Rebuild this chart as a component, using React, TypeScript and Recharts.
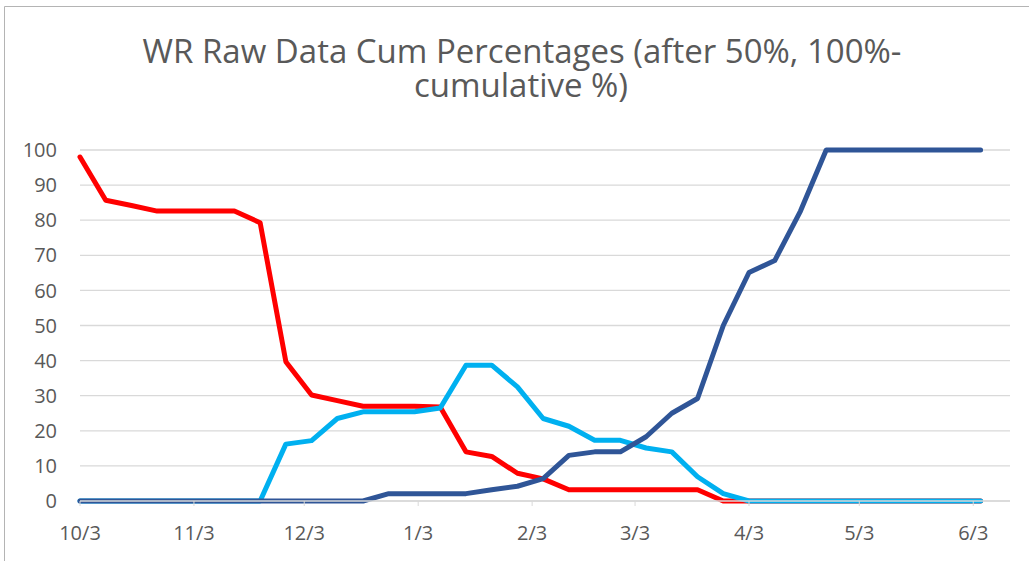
import React from "react"
import { LineChart, Line, XAxis, YAxis, CartesianGrid } from "recharts"

// weekly sample dates
const weekDates = [
  "2018-10-03", "2018-10-10", "2018-10-17", "2018-10-24", "2018-10-31", "2018-11-07",
  "2018-11-14", "2018-11-21", "2018-11-28", "2018-12-05", "2018-12-12", "2018-12-19",
  "2018-12-26", "2019-01-02", "2019-01-09", "2019-01-16", "2019-01-23", "2019-01-30",
  "2019-02-06", "2019-02-13", "2019-02-20", "2019-02-27", "2019-03-06", "2019-03-13",
  "2019-03-20", "2019-03-27", "2019-04-03", "2019-04-10", "2019-04-17", "2019-04-24",
  "2019-05-01", "2019-05-08", "2019-05-15", "2019-05-22", "2019-05-29", "2019-06-05",
]

const redSeries = [
  98, 85.7, 84.2, 82.6, 82.6, 82.6, 82.6, 79.3, 39.7, 30.2, 28.6, 27.0,
  27.0, 27.0, 26.8, 14.0, 12.7, 7.9, 6.3, 3.2, 3.2, 3.2, 3.2, 3.2,
  3.2, 0, 0, 0, 0, 0, 0, 0, 0, 0, 0, 0,
]

const lightBlueSeries = [
  0, 0, 0, 0, 0, 0, 0, 0, 16.2, 17.2, 23.5, 25.4,
  25.4, 25.4, 26.5, 38.7, 38.7, 32.5, 23.5, 21.3, 17.3, 17.3, 15.1, 14.0,
  6.9, 2.1, 0, 0, 0, 0, 0, 0, 0, 0, 0, 0,
]

const darkBlueSeries = [
  0, 0, 0, 0, 0, 0, 0, 0, 0, 0, 0, 0,
  2.1, 2.1, 2.1, 2.1, 3.2, 4.2, 6.4, 13.0, 14.0, 14.0, 18.3, 25.0,
  29.2, 50.0, 65.1, 68.5, 82.6, 100, 100, 100, 100, 100, 100, 100,
]

const tickDates = [
  "2018-10-03", "2018-11-03", "2018-12-03", "2019-01-03", "2019-02-03",
  "2019-03-03", "2019-04-03", "2019-05-03", "2019-06-03",
]
const yTicks = [0, 10, 20, 30, 40, 50, 60, 70, 80, 90, 100]

const DAY = 86400000
const toTime = (s: string) => Date.parse(s + "T00:00:00Z")

const data = weekDates.map((d, i) => ({
  t: toTime(d),
  red: redSeries[i],
  light: lightBlueSeries[i],
  dark: darkBlueSeries[i],
}))

const xTicks = tickDates.map(toTime)
const xStart = toTime(weekDates[0])
const xEnd = xStart + 253 * DAY

const fmtDate = (v: number) => {
  const d = new Date(v)
  return `${d.getUTCMonth() + 1}/${d.getUTCDate()}`
}

const FONT = "'Open Sans', sans-serif"
const TEXT = "#595959"

export default function App() {
  return (
    <div style={{ position: "absolute", left: 0, top: 0, width: 1029, height: 561, background: "#fff" }}>
      <svg width={1029} height={561} style={{ position: "absolute", left: 0, top: 0 }}>
        <line x1={4.5} y1={6.5} x2={1029} y2={6.5} stroke="#b4b4b4" />
        <line x1={4.5} y1={6.5} x2={4.5} y2={561} stroke="#b4b4b4" />
        <text x={522} y={63} textAnchor="middle" fontFamily={FONT} fontSize={33} fill={TEXT}>
          WR Raw Data Cum Percentages (after 50%, 100%-
        </text>
        <text x={521} y={97} textAnchor="middle" fontFamily={FONT} fontSize={33} fill={TEXT}>
          cumulative %)
        </text>
      </svg>
      <div style={{ position: "absolute", left: 0, top: 0 }}>
        <LineChart
          width={1029}
          height={561}
          data={data}
          margin={{ top: 150, right: 19, bottom: 0, left: 0 }}
        >
          <CartesianGrid vertical={false} stroke="#d9d9d9" strokeWidth={1.3} />
          <XAxis
            dataKey="t"
            type="number"
            domain={[xStart, xEnd]}
            ticks={xTicks}
            tickFormatter={fmtDate}
            height={60}
            axisLine={{ stroke: "#d9d9d9", strokeWidth: 1.3 }}
            tickLine={{ stroke: "#d9d9d9" }}
            tickSize={5}
            tickMargin={20}
            tick={{ fill: TEXT, fontSize: 20, fontFamily: FONT }}
            interval={0}
          />
          <YAxis
            domain={[0, 100]}
            ticks={yTicks}
            width={80}
            axisLine={false}
            tickLine={false}
            tickSize={0}
            tickMargin={23}
            tick={{ fill: TEXT, fontSize: 20, fontFamily: FONT }}
            interval={0}
          />
          <Line dataKey="red" stroke="#ff0000" strokeWidth={5} dot={false} isAnimationActive={false} strokeLinejoin="round" strokeLinecap="round" />
          <Line dataKey="light" stroke="#00b0f0" strokeWidth={5} dot={false} isAnimationActive={false} strokeLinejoin="round" strokeLinecap="round" />
          <Line dataKey="dark" stroke="#2f5597" strokeWidth={5} dot={false} isAnimationActive={false} strokeLinejoin="round" strokeLinecap="round" />
        </LineChart>
      </div>
    </div>
  )
}
